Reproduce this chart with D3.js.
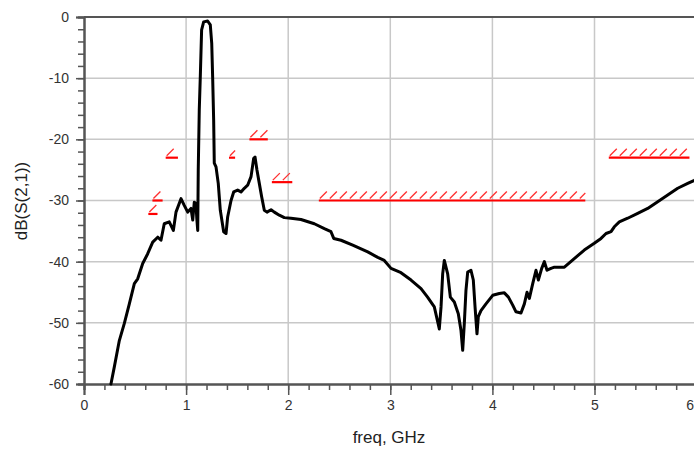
<!DOCTYPE html>
<html><head><meta charset="utf-8">
<script src="https://cdn.jsdelivr.net/npm/d3@7"></script>
<style>
html,body{margin:0;padding:0;background:#fff;overflow:hidden;}
svg{display:block;font-family:"Liberation Sans",Arial,sans-serif;}
</style></head><body>
<script>
// ---- data ----
const freq = [0.264,0.297,0.346,0.395,0.444,0.493,0.526,0.575,0.624,0.673,0.722,0.754,0.786,0.835,0.875,0.901,0.950,0.982,1.016,1.048,1.065,1.080,1.097,1.105,1.114,1.119,1.129,1.139,1.152,1.172,1.211,1.237,1.251,1.260,1.270,1.276,1.293,1.315,1.335,1.368,1.391,1.407,1.440,1.466,1.505,1.538,1.570,1.603,1.636,1.662,1.675,1.694,1.717,1.740,1.766,1.792,1.832,1.864,1.913,1.962,2.027,2.125,2.256,2.354,2.419,2.446,2.517,2.632,2.779,2.877,2.941,3.007,3.105,3.203,3.301,3.365,3.431,3.480,3.497,3.513,3.529,3.562,3.588,3.627,3.666,3.692,3.709,3.725,3.741,3.758,3.790,3.813,3.830,3.849,3.862,3.888,3.937,4.003,4.068,4.117,4.157,4.199,4.231,4.280,4.313,4.339,4.362,4.395,4.427,4.450,4.483,4.509,4.535,4.574,4.607,4.705,4.802,4.900,4.998,5.064,5.113,5.162,5.194,5.243,5.325,5.423,5.521,5.619,5.717,5.815,5.913,5.978,6.0];
const s21dB = [-60,-57.2,-52.9,-50.1,-46.9,-43.6,-42.8,-40.3,-38.7,-36.8,-36.0,-36.5,-33.8,-33.5,-34.9,-31.9,-29.7,-30.8,-31.9,-31.3,-33.2,-30.3,-30.5,-33,-34.9,-25.0,-15.2,-9.8,-2.1,-0.8,-0.65,-1.3,-4.3,-9.8,-16.9,-23.9,-24.5,-27.2,-31.6,-35.1,-35.4,-32.7,-30.0,-28.6,-28.3,-28.6,-28.0,-27.5,-26.1,-23.1,-22.9,-25.0,-27.2,-29.4,-31.6,-31.9,-31.5,-31.9,-32.4,-32.8,-32.9,-33.1,-33.8,-34.6,-35.1,-36.2,-36.5,-37.3,-38.4,-39.3,-39.8,-41.1,-41.8,-43.0,-44.4,-45.8,-47.4,-51.0,-47.4,-42.0,-39.8,-42.0,-45.8,-46.6,-48.5,-51.2,-54.5,-50.1,-44.7,-41.7,-41.4,-43.0,-47.4,-51.8,-49.0,-48.0,-46.9,-45.5,-45.2,-45.1,-45.8,-47.1,-48.2,-48.4,-46.9,-45.0,-46.0,-43.6,-41.4,-43.0,-41.1,-40.0,-41.4,-41.1,-40.9,-40.9,-39.5,-38.1,-37.0,-36.2,-35.4,-35.1,-34.3,-33.5,-32.9,-32.1,-31.3,-30.2,-29.1,-28.0,-27.2,-26.7,-26.5];

// spec mask segments (GHz, dB)
const maskStart = [0.63, 0.67, 0.80, 1.42, 1.62, 1.84, 2.30, 5.14];
const maskStop  = [0.72, 0.77, 0.92, 1.48, 1.80, 2.04, 4.91, 5.93];
const maskLevel = [-32.2, -30, -23, -23, -20, -27, -30, -23];

const xTicks = [0,1,2,3,4,5,6];
const yTicks = [0,-10,-20,-30,-40,-50,-60];
const xMinorTicks = d3.range(0, 6.01, 0.2);
const yMinorTicks = d3.range(0, -60.01, -2);
const xTitle = "freq, GHz";
const yTitle = "dB(S(2,1))";

// ---- chart ----
const W = 694, H = 450;
const svg = d3.select("body").append("svg").attr("width", W).attr("height", H);
const x = d3.scaleLinear().domain([0, 6]).range([84, 696.6]);
const y = d3.scaleLinear().domain([-60, 0]).range([384, 17]);

// grid
svg.append("g").selectAll("line").data(xTicks.filter(d => d > 0)).join("line")
  .attr("x1", d => x(d)).attr("x2", d => x(d)).attr("y1", y(0)).attr("y2", y(-60))
  .attr("stroke", "#c8c8c8").attr("stroke-width", 1.5);
svg.append("g").selectAll("line").data(yTicks.filter(d => d < 0 && d > -60)).join("line")
  .attr("x1", x(0)).attr("x2", W).attr("y1", d => y(d)).attr("y2", d => y(d))
  .attr("stroke", "#c8c8c8").attr("stroke-width", 1.5);

// top border
svg.append("line").attr("x1", x(0)).attr("x2", W).attr("y1", y(0)).attr("y2", y(0))
  .attr("stroke", "#555").attr("stroke-width", 2);

function styleAxis(g) {
  g.select(".domain").attr("stroke", "#555").attr("stroke-width", 2);
  g.selectAll(".tick line").attr("stroke", "#555").attr("stroke-width", 1.5);
  g.selectAll(".tick text").attr("fill", "#333").style("font-size", "14px")
    .style("font-family", "'Liberation Sans', Arial, sans-serif");
}

// minor ticks
svg.append("g").attr("transform", `translate(0,${y(-60)})`)
  .call(d3.axisBottom(x).tickValues(xMinorTicks).tickSize(6).tickFormat(""))
  .call(styleAxis);
svg.append("g").attr("transform", `translate(${x(0)},0)`)
  .call(d3.axisLeft(y).tickValues(yMinorTicks).tickSize(6).tickFormat(""))
  .call(styleAxis);
// major ticks
svg.append("g").attr("transform", `translate(0,${y(-60)})`)
  .call(d3.axisBottom(x).tickValues(xTicks).tickSize(11).tickPadding(5).tickFormat(d3.format("d")))
  .call(styleAxis)
  .call(g => g.selectAll(".tick text").filter(d => d === 6)
    .attr("text-anchor", "end").attr("dx", W - x(6) - 0.5));
svg.append("g").attr("transform", `translate(${x(0)},0)`)
  .call(d3.axisLeft(y).tickValues(yTicks).tickSize(8).tickPadding(7).tickFormat(d3.format("d")))
  .call(styleAxis)
  .call(g => g.selectAll(".tick text").text(d => d === 0 ? "0" : String(d)));

// mask
const masks = maskStart.map((s, i) => ({ s, e: maskStop[i], v: maskLevel[i] }));
const mg = svg.append("g");
masks.forEach(m => {
  const x0 = x(m.s), x1 = x(m.e), yy = y(m.v);
  mg.append("line").attr("x1", x0).attr("x2", x1).attr("y1", yy).attr("y2", yy)
    .attr("stroke", "#ff0000").attr("stroke-width", 2.2);
  d3.range(x0 + 1, x1 - 2, 10).forEach(hx => {
    mg.append("line").attr("x1", hx).attr("y1", yy - 2)
      .attr("x2", Math.min(hx + 7, x1)).attr("y2", yy - 2 - (Math.min(hx + 7, x1) - hx))
      .attr("stroke", "#ff3030").attr("stroke-width", 1.3);
  });
});

// curve
const pts = freq.map((f, i) => [f, s21dB[i]]);
svg.append("path").datum(pts)
  .attr("d", d3.line().x(d => x(d[0])).y(d => y(d[1])))
  .attr("fill", "none").attr("stroke", "#000").attr("stroke-width", 3)
  .attr("stroke-linejoin", "round").attr("stroke-linecap", "round");

// titles
svg.append("text").attr("x", 389).attr("y", 443).attr("text-anchor", "middle")
  .style("font-size", "17px").attr("fill", "#222").text(xTitle);
svg.append("text").attr("transform", "translate(27,201) rotate(-90)")
  .attr("text-anchor", "middle").style("font-size", "17px").attr("fill", "#222").text(yTitle);
</script>
</body></html>
